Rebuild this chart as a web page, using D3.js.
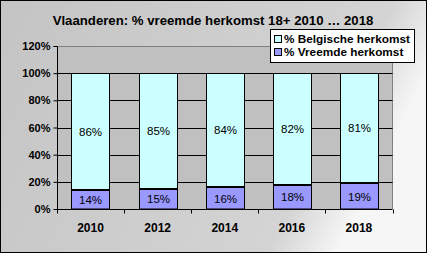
<!DOCTYPE html>
<html><head><meta charset="utf-8">
<script src="https://cdn.jsdelivr.net/npm/d3@7"></script>
<style>html,body{margin:0;padding:0;background:#fff;}svg{display:block;}</style>
</head><body>
<svg id="c" width="427" height="253"></svg>
<script>
const years = ["2010","2012","2014","2016","2018"];
const vreemde = [14,15,16,18,19];
const belgische = [86,85,84,82,81];
const yTicks = [0,20,40,60,80,100,120];
const title = "Vlaanderen: % vreemde herkomst 18+ 2010 \u2026 2018";
const seriesNames = ["% Belgische herkomst","% Vreemde herkomst"];
const colors = {bel:"#ccffff", vre:"#9999ff"};

const svg = d3.select("#c");
const W=427,H=253;
const defs = svg.append("defs");
const g = defs.append("linearGradient").attr("id","bg").attr("x1","0").attr("x2","1").attr("y1","0").attr("y2","0.3");
g.append("stop").attr("offset","0").attr("stop-color","#c4c4c4");
g.append("stop").attr("offset","0.85").attr("stop-color","#d4d4d4");
g.append("stop").attr("offset","1").attr("stop-color","#f6f6f6");
svg.append("rect").attr("x",0.5).attr("y",0.5).attr("width",W-1).attr("height",H-1).attr("fill","url(#bg)").attr("stroke","#000");

const L=57,R=392.5,T=46,B=209;
const x = d3.scaleBand().domain(years).range([L,R]).paddingInner(0.43).paddingOuter(0.215);
const y = d3.scaleLinear().domain([0,120]).range([B,T]);

svg.append("rect").attr("x",L).attr("y",T).attr("width",R-L).attr("height",B-T).attr("fill","#c0c0c0");
svg.append("path").attr("d",`M${L},${T+0.5}H${R}V${B}`).attr("fill","none").attr("stroke","#808080");
svg.append("g").selectAll("line").data(yTicks.filter(t=>t>0&&t<120)).join("line")
  .attr("x1",L).attr("x2",R).attr("y1",d=>Math.round(y(d))+0.5).attr("y2",d=>Math.round(y(d))+0.5)
  .attr("stroke","#000");

const bars = svg.append("g");
years.forEach((yr,i)=>{
  const bx = Math.round(x(yr))+0.5, bw = Math.round(x.bandwidth());
  const yv = y(vreemde[i]), yt = y(100);
  bars.append("rect").attr("x",bx).attr("y",Math.round(yt)+0.5).attr("width",bw).attr("height",Math.round(yv)-Math.round(yt))
    .attr("fill",colors.bel).attr("stroke","#000");
  bars.append("rect").attr("x",bx).attr("y",Math.round(yv)+0.5).attr("width",bw).attr("height",B-Math.round(yv)-0.5)
    .attr("fill",colors.vre).attr("stroke","#000");
  bars.append("line").attr("x1",bx).attr("x2",bx+bw).attr("y1",Math.round(yv)).attr("y2",Math.round(yv)).attr("stroke","#000").attr("stroke-width",2);
  bars.append("text").attr("x",bx+bw/2).attr("y",(yt+yv)/2).attr("dy","0.36em").attr("text-anchor","middle")
    .attr("font-family","Liberation Sans, Arial, sans-serif").attr("font-size",11.5).text(belgische[i]+"%");
  bars.append("text").attr("x",bx+bw/2).attr("y",(yv+B)/2+0.5).attr("dy","0.36em").attr("text-anchor","middle")
    .attr("font-family","Liberation Sans, Arial, sans-serif").attr("font-size",11.5).text(vreemde[i]+"%");
});

const ya = svg.append("g").attr("transform",`translate(${L+0.5},0)`)
  .call(d3.axisLeft(y).tickValues(yTicks).tickFormat(d=>d+"%").tickSize(4).tickPadding(3));
ya.select(".domain").attr("d",`M-4,${Math.round(T)+0.5}H0V${B+0.5}`).attr("stroke","#000");
ya.selectAll(".tick line").attr("stroke","#000");
ya.selectAll("text").attr("font-family","Liberation Sans, Arial, sans-serif").attr("font-size",11).attr("font-weight","bold").attr("fill","#000");

const xa = svg.append("g").attr("transform",`translate(0,${B+0.5})`);
xa.append("line").attr("x1",L).attr("x2",R).attr("stroke","#000");
const bounds = d3.range(years.length+1).map(i=>L+(R-L)*i/years.length);
xa.selectAll("line.tk").data(bounds).join("line").attr("class","tk")
  .attr("x1",d=>Math.round(d)+0.5).attr("x2",d=>Math.round(d)+0.5).attr("y1",0).attr("y2",4).attr("stroke","#000");
xa.selectAll("text").data(years).join("text").attr("x",d=>x(d)+x.bandwidth()/2).attr("y",22.5)
  .attr("text-anchor","middle").attr("font-family","Liberation Sans, Arial, sans-serif").attr("font-size",12).attr("font-weight","bold").text(d=>d);

svg.append("text").attr("x",213).attr("y",25).attr("text-anchor","middle")
  .attr("font-family","Liberation Sans, Arial, sans-serif").attr("font-size",13.2).attr("font-weight","bold").text(title);

const lg = svg.append("g");
lg.append("rect").attr("x",270.5).attr("y",29.5).attr("width",144).attr("height",33).attr("fill","#fff").attr("stroke","#000");
[[seriesNames[0],colors.bel,38.5],[seriesNames[1],colors.vre,52]].forEach(([n,c,cy])=>{
  lg.append("rect").attr("x",274.5).attr("y",Math.round(cy-4)+0.5).attr("width",7).attr("height",7).attr("fill",c).attr("stroke","#000");
  lg.append("text").attr("x",284).attr("y",cy).attr("dy","0.36em").attr("font-family","Liberation Sans, Arial, sans-serif")
    .attr("font-size",11.8).attr("font-weight","bold").text(n);
});
</script>
</body></html>
